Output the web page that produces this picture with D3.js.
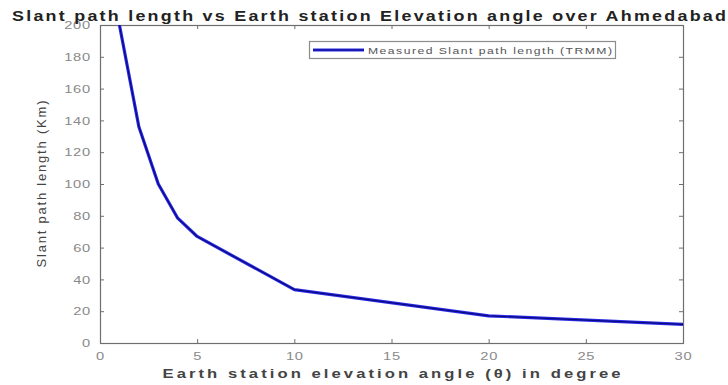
<!DOCTYPE html>
<html>
<head>
<meta charset="utf-8">
<script src="https://cdn.jsdelivr.net/npm/d3@7"></script>
<style>
  html, body { margin: 0; padding: 0; background: #fff; }
  svg { display: block; }
  text { font-family: "Liberation Sans", "DejaVu Sans", sans-serif; }
</style>
</head>
<body>
<svg id="chart" width="728" height="385"></svg>
<script>
// Elevation angle (degrees) and measured slant path length (km)
const elevationAngles = [1, 2, 3, 4, 5, 10, 20, 30];
const slantPathKm = [200, 136, 100, 78.5, 67, 33.6, 17.1, 11.7];

const xTicks = [0, 5, 10, 15, 20, 25, 30];
const yTicks = [0, 20, 40, 60, 80, 100, 120, 140, 160, 180, 200];

const titleText = "Slant path length vs Earth station Elevation angle over Ahmedabad";
const xLabel = "Earth station elevation angle (\u03B8) in degree";
const yLabel = "Slant path length (Km)";
const legendLabel = "Measured Slant path length (TRMM)";

const W = 728, H = 385;
const margin = { left: 100, right: 45, top: 25, bottom: 42 };
const plotW = W - margin.left - margin.right;
const plotH = H - margin.top - margin.bottom;
const stretch = 1.28; // wide lettering for all text

const svg = d3.select("#chart");

const x = d3.scaleLinear().domain([0, 30]).range([margin.left, margin.left + plotW]);
const y = d3.scaleLinear().domain([0, 200]).range([margin.top + plotH, margin.top]);

const axisColor = "#6e6e6e";
const tickTextColor = "#8a8a8a";

svg.append("clipPath").attr("id", "plotClip")
  .append("rect")
  .attr("x", margin.left).attr("y", margin.top)
  .attr("width", plotW).attr("height", plotH);

// Axes with inward ticks on all four sides
function styleAxis(g) {
  g.select(".domain").remove();
  g.selectAll(".tick line").attr("stroke", axisColor).attr("stroke-width", 1);
  g.selectAll(".tick text")
    .attr("fill", tickTextColor)
    .style("font-size", "11.5px")
    .style("letter-spacing", "0.6px");
}

svg.append("g")
  .attr("transform", `translate(0,${margin.top + plotH})`)
  .call(d3.axisBottom(x).tickValues(xTicks).tickSize(-4).tickPadding(9).tickFormat(d3.format("d")))
  .call(styleAxis)
  .call(g => g.selectAll(".tick text").attr("transform", `scale(${stretch},1)`));

svg.append("g")
  .attr("transform", `translate(0,${margin.top})`)
  .call(d3.axisTop(x).tickValues(xTicks).tickSize(-4).tickFormat(""))
  .call(styleAxis);

svg.append("g")
  .attr("transform", `translate(${margin.left},0)`)
  .call(d3.axisLeft(y).tickValues(yTicks).tickSize(-4).tickPadding(8).tickFormat(d3.format("d")))
  .call(styleAxis)
  .call(g => g.selectAll(".tick text")
    .attr("x", -9 / stretch)
    .attr("transform", `scale(${stretch},1)`));

svg.append("g")
  .attr("transform", `translate(${margin.left + plotW},0)`)
  .call(d3.axisRight(y).tickValues(yTicks).tickSize(-4).tickFormat(""))
  .call(styleAxis);

// Plot frame
svg.append("rect")
  .attr("x", margin.left + 0.5).attr("y", margin.top + 0.5)
  .attr("width", plotW).attr("height", plotH)
  .attr("fill", "none").attr("stroke", axisColor).attr("stroke-width", 1.2);

// Data line
const line = d3.line()
  .x((d, i) => x(elevationAngles[i]))
  .y(d => y(d));

const lineG = svg.append("g").attr("clip-path", "url(#plotClip)");
lineG.append("path")
  .datum(slantPathKm)
  .attr("d", line)
  .attr("fill", "none")
  .attr("stroke", "#2a2ae6")
  .attr("stroke-width", 3.2)
  .attr("stroke-linejoin", "round");
lineG.append("path")
  .datum(slantPathKm)
  .attr("d", line)
  .attr("fill", "none")
  .attr("stroke", "#0a0a80")
  .attr("stroke-width", 1.2)
  .attr("stroke-linejoin", "round");

// Legend
const lg = svg.append("g");
lg.append("rect")
  .attr("x", 309.5).attr("y", 41.5).attr("width", 306).attr("height", 17)
  .attr("fill", "#fff").attr("stroke", "#8c8c8c").attr("stroke-width", 1.2);
lg.append("line")
  .attr("x1", 313).attr("x2", 364).attr("y1", 50).attr("y2", 50)
  .attr("stroke", "#2a2ae6").attr("stroke-width", 3);
lg.append("line")
  .attr("x1", 313).attr("x2", 364).attr("y1", 50).attr("y2", 50)
  .attr("stroke", "#0a0a80").attr("stroke-width", 1);
lg.append("text")
  .attr("transform", `translate(368,53.5) scale(${stretch},1)`)
  .attr("textLength", 244 / stretch).attr("lengthAdjust", "spacing")
  .attr("fill", "#555").style("font-size", "9.5px")
  .text(legendLabel);

// Title
svg.append("text")
  .attr("transform", `translate(12,21) scale(${stretch},1)`)
  .attr("textLength", 714 / stretch).attr("lengthAdjust", "spacing")
  .attr("fill", "#222").style("font-size", "14px").style("font-weight", "bold")
  .text(titleText);

// X axis label
svg.append("text")
  .attr("transform", `translate(${margin.left + plotW / 2},378) scale(${stretch},1)`)
  .attr("text-anchor", "middle")
  .attr("textLength", 458 / stretch).attr("lengthAdjust", "spacing")
  .attr("fill", "#444").style("font-size", "13px").style("font-weight", "bold")
  .text(xLabel);

// Y axis label
svg.append("text")
  .attr("transform", `translate(46,${margin.top + plotH / 2}) rotate(-90)`)
  .attr("text-anchor", "middle")
  .attr("textLength", 167).attr("lengthAdjust", "spacing")
  .attr("fill", "#444").style("font-size", "13px")
  .text(yLabel);
</script>
</body>
</html>
